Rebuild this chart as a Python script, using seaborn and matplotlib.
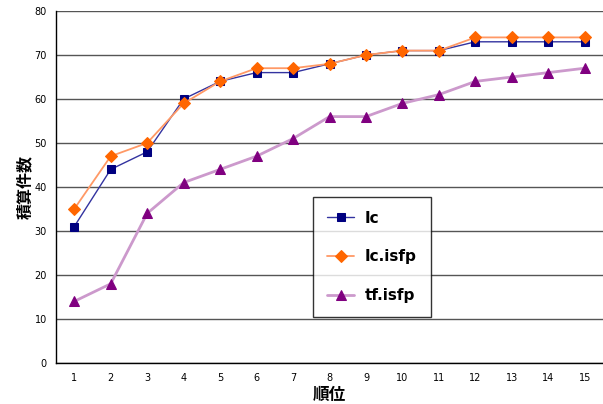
import seaborn as sns
import pandas as pd
import matplotlib.pyplot as plt
from matplotlib.ticker import FixedLocator

rank = list(range(1, 16))
ic = [31, 44, 48, 60, 64, 66, 66, 68, 70, 71, 71, 73, 73, 73, 73]
ic_isfp = [35, 47, 50, 59, 64, 67, 67, 68, 70, 71, 71, 74, 74, 74, 74]
tf_isfp = [14, 18, 34, 41, 44, 47, 51, 56, 56, 59, 61, 64, 65, 66, 67]
y_ticks = [0, 10, 20, 30, 40, 50, 60, 70, 80]

sns.set_style('white', {'text.color': 'black', 'axes.labelcolor': 'black',
                        'xtick.color': 'black', 'ytick.color': 'black'})
plt.rcParams['font.family'] = ['Noto Sans CJK JP', 'DejaVu Sans']

fig = plt.figure(figsize=(6.03, 4.04), dpi=100)
ax = fig.add_axes([56/603, 1-363/404, 1-56/603, (363-11)/404])

df = pd.DataFrame({'rank': rank, 'Ic': ic, 'Ic.isfp': ic_isfp, 'tf.isfp': tf_isfp})

sns.lineplot(data=df, x='rank', y='Ic', ax=ax, color='#3333a0', lw=1,
             marker='s', markersize=6, markerfacecolor='#000080', markeredgecolor='#000080', label='Ic')
sns.lineplot(data=df, x='rank', y='Ic.isfp', ax=ax, color='#ff9966', lw=1.3,
             marker='D', markersize=6.5, markerfacecolor='#ff6600', markeredgecolor='#ff6600', label='Ic.isfp')
sns.lineplot(data=df, x='rank', y='tf.isfp', ax=ax, color='#cc99cc', lw=2,
             marker='^', markersize=7.5, markerfacecolor='#800080', markeredgecolor='#800080', label='tf.isfp')

ax.set_xlim(0.5, 15.5)
ax.set_ylim(0, 80)
ax.set_xticks(rank)
ax.set_xticklabels([str(r) for r in rank], fontsize=7, family=['DejaVu Sans'])
ax.xaxis.set_minor_locator(FixedLocator([r + 0.5 for r in rank[:-1]]))
ax.tick_params(axis='x', which='major', length=0, pad=7)
ax.tick_params(axis='x', which='minor', length=3, direction='in', color='black')
ax.set_yticks(y_ticks)
ax.set_yticklabels([str(v) for v in y_ticks], fontsize=7, family=['DejaVu Sans'])
ax.tick_params(axis='y', length=3, color='black', direction='out', pad=3.5)
ax.yaxis.grid(True, color='#555555', lw=1)
ax.xaxis.grid(False)
ax.set_axisbelow(True)

for s in ['top', 'right']:
    ax.spines[s].set_visible(False)
for s in ['left', 'bottom']:
    ax.spines[s].set_color('black')
    ax.spines[s].set_linewidth(1)

ax.set_xlabel('順位', fontsize=12, fontweight='bold', va='center')
ax.xaxis.set_label_coords(0.5, -(395-363)/352)
ax.set_ylabel('積算件数', fontsize=11.5, fontweight='bold', va='center')
ax.yaxis.set_label_coords((25-56)/547, 0.5)

leg = ax.legend(loc='upper left', bbox_to_anchor=((313-56)/547, (363-197)/352),
                frameon=True, fancybox=False, edgecolor='black',
                prop={'weight': 'bold', 'size': 11, 'family': ['DejaVu Sans']},
                borderpad=0.9, labelspacing=1.55, handlelength=1.8, handletextpad=0.7,
                borderaxespad=0)
leg.get_frame().set_linewidth(1)
for t in leg.get_texts():
    t.set_color('black')

fig.savefig('out.png', dpi=100)
